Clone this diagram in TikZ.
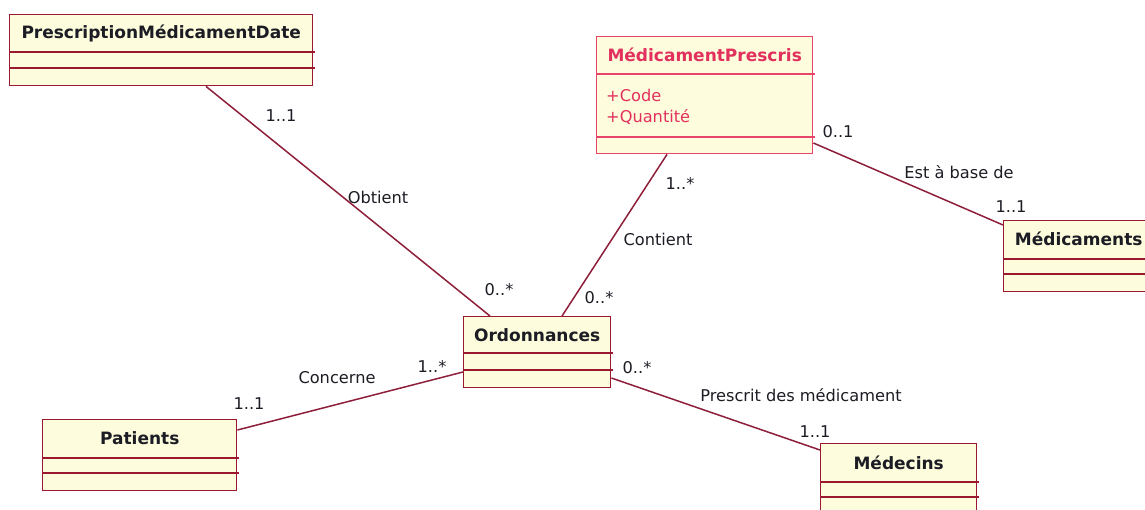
\documentclass[tikz,border=0pt]{standalone}
\usepackage{fontspec}
\setmainfont{DejaVu Sans}
\usetikzlibrary{calc}

\definecolor{boxfill}{HTML}{FDFCDC}
\definecolor{boxline}{HTML}{9A1830}
\definecolor{hiline}{HTML}{E8436A}
\definecolor{hitext}{HTML}{E2305E}
\definecolor{assoc}{HTML}{8E1F3A}
\definecolor{ink}{HTML}{1C1C24}

\tikzset{
  cls/.style={draw=boxline, fill=boxfill, line width=1.4pt, rectangle,
    inner sep=0pt, anchor=north west},
  hicls/.style={cls, draw=hiline},
  title/.style={font=\fontsize{17}{20}\selectfont\bfseries, text=ink, inner sep=0pt},
  hititle/.style={title, text=hitext},
  attr/.style={font=\fontsize{16.2}{19}\selectfont, text=hitext, inner sep=0pt, anchor=west},
  sep/.style={draw=boxline, line width=1.4pt},
  hisep/.style={draw=hiline, line width=1.4pt},
  link/.style={draw=assoc, line width=1.5pt},
  lbl/.style={font=\fontsize{16.2}{19}\selectfont, text=ink, inner sep=0pt},
}

\begin{document}
\begin{tikzpicture}[x=1pt, y=-1pt]
\fill[white] (0,0) rectangle (1145,509);
\clip (0,0) rectangle (1145,509);

% ---- classes ----
\node[cls, minimum width=303pt, minimum height=71pt] (pmd) at (9,14) {};
\node[title] (pmdT) at ($(pmd.north)+(0,19)$) {PrescriptionMédicamentDate};
\draw[sep] ($(pmd.north west)+(0,38)$) -- ++(306,0);
\draw[sep] ($(pmd.north west)+(0,54)$) -- ++(306,0);

\node[hicls, minimum width=216pt, minimum height=117pt] (mp) at (596,36) {};
\node[hititle] (mpT) at ($(mp.north)+(0,19)$) {MédicamentPrescris};
\draw[hisep] ($(mp.north west)+(0,38)$) -- ++(219,0);
\draw[hisep] ($(mp.north west)+(0,101)$) -- ++(219,0);
\node[attr] (mpA1) at ($(mp.north west)+(10,59)$) {+Code};
\node[attr] (mpA2) at ($(mp.north west)+(10,81)$) {+Quantité};

\node[cls, minimum width=150pt, minimum height=71pt] (med) at (1003,220) {};
\node[title] (medT) at ($(med.north)+(0,19)$) {Médicaments};
\draw[sep] ($(med.north west)+(0,39)$) -- ++(153,0);
\draw[sep] ($(med.north west)+(0,54)$) -- ++(153,0);

\node[cls, minimum width=147pt, minimum height=71pt] (ord) at (463,316) {};
\node[title] (ordT) at ($(ord.north)+(0,19)$) {Ordonnances};
\draw[sep] ($(ord.north west)+(0,37)$) -- ++(150,0);
\draw[sep] ($(ord.north west)+(0,54)$) -- ++(150,0);

\node[cls, minimum width=194pt, minimum height=71pt] (pat) at (42,419) {};
\node[title] (patT) at ($(pat.north)+(0,19)$) {Patients};
\draw[sep] ($(pat.north west)+(0,39)$) -- ++(197,0);
\draw[sep] ($(pat.north west)+(0,54)$) -- ++(197,0);

\node[cls, minimum width=156pt, minimum height=71pt] (doc) at (820,443) {};
\node[title] (docT) at ($(doc.north)+(0,20)$) {Médecins};
\draw[sep] ($(doc.north west)+(0,39)$) -- ++(159,0);
\draw[sep] ($(doc.north west)+(0,54)$) -- ++(159,0);

% ---- associations ----
\draw[link] ($(pmd.south west)+(197,0)$) -- ($(ord.north west)+(27,0)$);
\draw[link] ($(mp.south west)+(71,0)$) -- ($(ord.north west)+(99,0)$);
\draw[link] ($(mp.north east)+(0,107)$) -- ($(med.north west)+(0,5)$);
\draw[link] ($(ord.north west)+(0,56)$) -- ($(pat.north east)+(0,11)$);
\draw[link] ($(ord.north east)+(0,62)$) -- ($(doc.north west)+(0,7)$);

% ---- association names and multiplicities ----
\node[lbl] (l1) at (281,116) {1..1};
\node[lbl] (l2) at (378,197) {Obtient};
\node[lbl] (l3) at (499,290) {0..*};

\node[lbl] (l4) at (680,183) {1..*};
\node[lbl] (l5) at (658,239) {Contient};
\node[lbl] (l6) at (599,298) {0..*};

\node[lbl] (l7) at (838,132) {0..1};
\node[lbl] (l8) at (959,172) {Est à base de};
\node[lbl] (l9) at (1011,207) {1..1};

\node[lbl] (l10) at (337,378) {Concerne};
\node[lbl] (l11) at (432,366) {1..*};
\node[lbl] (l12) at (249,404) {1..1};

\node[lbl] (l13) at (637,368) {0..*};
\node[lbl] (l14) at (801,395) {Prescrit des médicament};
\node[lbl] (l15) at (815,432) {1..1};
\end{tikzpicture}
\end{document}
